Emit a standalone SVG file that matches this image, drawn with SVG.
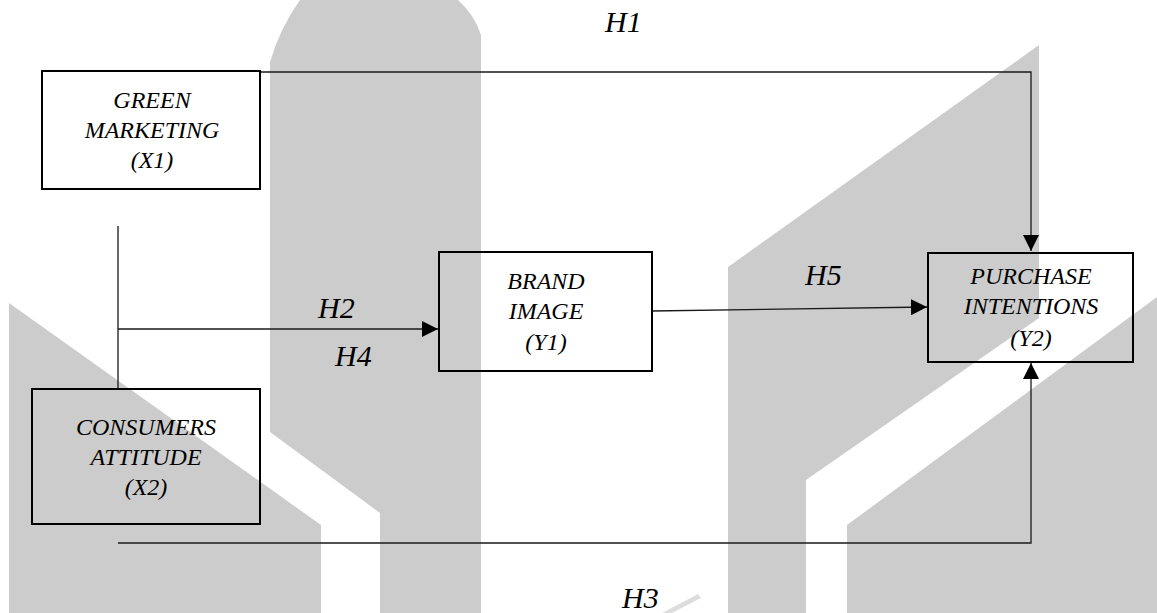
<svg xmlns="http://www.w3.org/2000/svg" width="1157" height="613" viewBox="0 0 1157 613">
  <style>
    .wm { fill: #cccccc; }
    .box { fill: none; stroke: #000000; stroke-width: 2; }
    .lbl { font-family: "Liberation Serif", "Times New Roman", serif; font-style: italic; font-size: 24px; fill: #000000; text-anchor: middle; }
    .hyp { font-family: "Liberation Serif", "Times New Roman", serif; font-style: italic; font-size: 30px; fill: #000000; }
    .con { fill: none; stroke: #1a1a1a; stroke-width: 1.3; }
  </style>
  <defs>
    <marker id="arrow" viewBox="0 0 16 16" refX="16" refY="8" markerWidth="16" markerHeight="16" orient="auto" markerUnits="userSpaceOnUse">
      <path d="M0,0 L16,8 L0,16 z" fill="#000000"/>
    </marker>
  </defs>
  <rect x="0" y="0" width="1157" height="613" fill="#ffffff"/>
  <g id="watermark">
    <path class="wm" d="M300,0 L458,0 Q474,14 481,35 L481,613 L380,613 L380,513 L270,432 L270,62 Q280,28 300,0 Z"/>
    <polygon class="wm" points="9,303 321,525 321,613 9,613"/>
    <polygon class="wm" points="728,267 1039,45 1039,318 806,480 806,613 728,613"/>
    <polygon class="wm" points="847,525 1157,297 1157,613 847,613"/>
    <polygon points="662,613 698,594 701,598 672,613" fill="#dddddd"/>
  </g>
  <g id="connectors">
    <path class="con" d="M260,72 H1031 V251" marker-end="url(#arrow)"/>
    <path class="con" d="M118,226 V389"/>
    <path class="con" d="M118,329 H438" marker-end="url(#arrow)"/>
    <path class="con" d="M652,311 L927,307" marker-end="url(#arrow)"/>
    <path class="con" d="M118,543 H1031 V363" marker-end="url(#arrow)"/>
    <text class="hyp" x="605" y="32">H1</text>
    <text class="hyp" x="318" y="318">H2</text>
    <text class="hyp" x="335" y="366">H4</text>
    <text class="hyp" x="805" y="285">H5</text>
    <text class="hyp" x="622" y="608">H3</text>
  </g>
  <g id="green-marketing">
    <rect class="box" x="42" y="71" width="218" height="118"/>
    <text class="lbl" x="152" y="108">GREEN</text>
    <text class="lbl" x="152" y="138">MARKETING</text>
    <text class="lbl" x="152" y="168">(X1)</text>
  </g>
  <g id="consumers-attitude">
    <rect class="box" x="32" y="389" width="228" height="135"/>
    <text class="lbl" x="146" y="435">CONSUMERS</text>
    <text class="lbl" x="146" y="465">ATTITUDE</text>
    <text class="lbl" x="146" y="495">(X2)</text>
  </g>
  <g id="brand-image">
    <rect class="box" x="439" y="252" width="213" height="119"/>
    <text class="lbl" x="546" y="289">BRAND</text>
    <text class="lbl" x="546" y="319">IMAGE</text>
    <text class="lbl" x="546" y="350">(Y1)</text>
  </g>
  <g id="purchase-intentions">
    <rect class="box" x="928" y="253" width="205" height="109"/>
    <text class="lbl" x="1031" y="284">PURCHASE</text>
    <text class="lbl" x="1031" y="314">INTENTIONS</text>
    <text class="lbl" x="1031" y="346">(Y2)</text>
  </g>
</svg>
